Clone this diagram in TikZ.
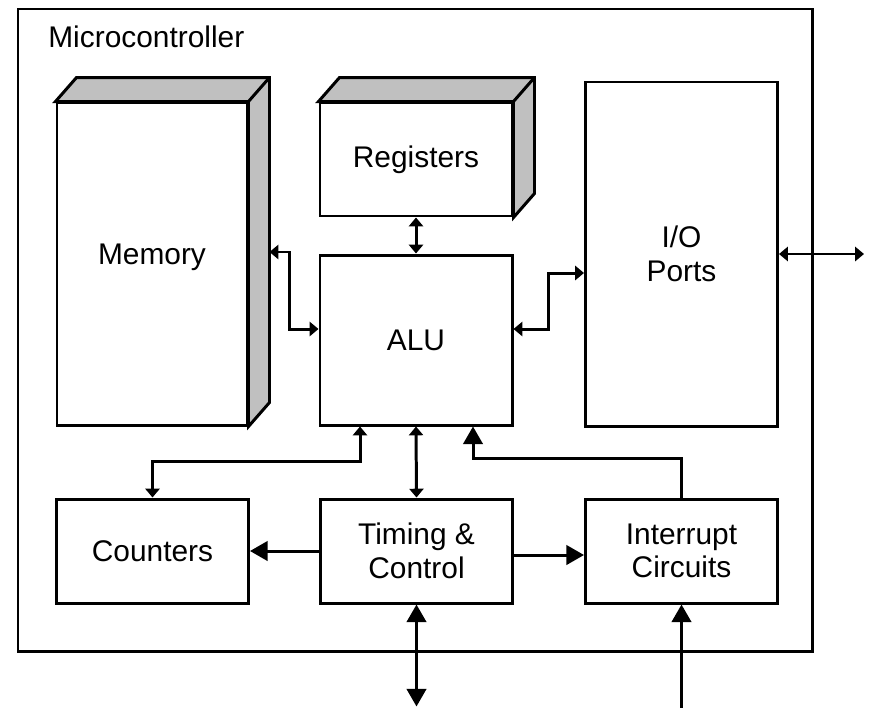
\documentclass[tikz,border=0pt]{standalone}
\usepackage{fontspec}
\setmainfont{Liberation Sans}
\usetikzlibrary{arrows.meta, calc}
\definecolor{linea}{HTML}{000000}
\definecolor{relleno}{HTML}{C0C0C0}
\tikzset{
	bloque/.style={draw=linea, line width=1.7pt, minimum width=3.84cm, align=center, inner sep=0pt},
	enlace/.style={draw=linea, line width=1.7pt},
	chica/.tip={Triangle[length=5pt, width=8pt]},
	grande/.tip={Triangle[length=10pt, width=11pt]}
}

\begin{document}
\begin{tikzpicture}[font=\fontsize{17}{19}\selectfont]
	\useasboundingbox (0,0) rectangle (17.44,-14.14);
	\node[bloque, minimum width=15.88cm, minimum height=12.84cm] (micro) at (8.3,-6.6) {};
	\node[anchor=base west, inner sep=0pt] (rotulo) at (0.96,-0.94) {Microcontroller};
	\node[bloque, minimum width=3.8cm, minimum height=6.44cm] (mem) at (3.04,-5.28) {\raisebox{0pt}[0pt][0pt]{Memory}};
	\node[bloque, minimum height=2.26cm] (reg) at (8.32,-3.19) {Registers};
	\node[bloque, minimum height=3.4cm] (alu) at (8.32,-6.8) {ALU};
	\node[bloque, minimum height=6.88cm] (io) at (13.63,-5.08) {I/O\\Ports};
	\foreach \n/\x/\t in {cont/3.05/Counters, temp/8.33/{Timing \&\\Control}, intr/13.63/{Interrupt\\Circuits}}
		\node[bloque, minimum height=2.08cm] (\n) at (\x,-11.02) {\t};
	\foreach \c in {mem, reg} {
		\filldraw[enlace, fill=relleno] (\c.north west) -- ++(0.42,0.48) -- ($(\c.north east)+(0.42,0.48)$)
			-- ($(\c.south east)+(0.42,0.48)$) -- (\c.south east) -- (\c.north east) -- cycle;
		\draw[enlace] (\c.north east) -- ++(0.42,0.48);
	}
	\coordinate (memlado) at ($(mem.east)+(0.42,0.24)$);
	\draw[enlace, chica-chica] (memlado) -- ++(0.4,0) |- ($(alu.west)+(0,0.22)$);
	\draw[enlace, chica-chica] (reg.south) -- (alu.north);
	\draw[enlace, chica-chica] ($(alu.east)+(0,0.22)$) -- ++(0.7,0) |- ($(io.west)+(0,-0.38)$);
	\coordinate (salida) at ($(io.east)+(1.7,0)$);
	\draw[enlace, chica-chica] (io.east) -- (salida);
	\draw[enlace, chica-chica] ($(alu.south)+(-1.12,0)$) -- ++(0,-0.7) -| (cont.north);
	\draw[enlace, chica-chica] (alu.south) -- (temp.north);
	\draw[enlace, -grande] (intr.north) -- ++(0,0.78) -| ($(alu.south)+(1.14,0)$);
	\draw[enlace, -grande] (temp.west) -- (cont.east);
	\draw[enlace, -grande] ($(temp.east)+(0,-0.08)$) -- ($(intr.west)+(0,-0.08)$);
	\coordinate (bus) at ($(temp.south)+(0,-2.04)$);
	\draw[enlace, grande-grande] (temp.south) -- (bus);
	\coordinate (irq) at ($(intr.south)+(0,-2.1)$);
	\draw[enlace, -grande] (irq) -- (intr.south);
\end{tikzpicture}
\end{document}
